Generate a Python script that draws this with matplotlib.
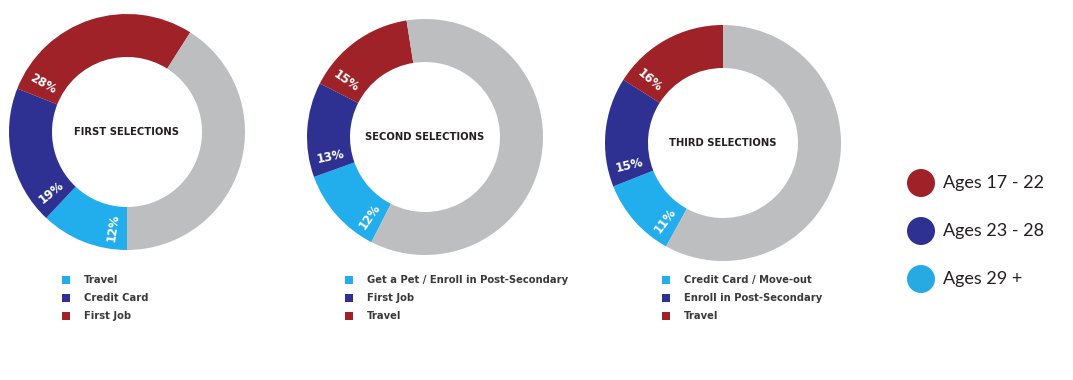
import numpy as np
import matplotlib.pyplot as plt

# Shared style
RED = "#9E2227"
NAVY = "#2E3192"
SKY = "#22AEEC"
GREY = "#BCBEC0"
SEG_COLORS = [SKY, NAVY, RED, GREY]
FIG_DPI = 100

# Data: percentages for each age group (29+, 23-28, 17-22), rest is grey
titles = ["FIRST SELECTIONS", "SECOND SELECTIONS", "THIRD SELECTIONS"]
first_vals = [12, 19, 28]
second_vals = [12, 13, 15]
third_vals = [11, 15, 16]
first_labels = ["Travel", "Credit Card", "First Job"]
second_labels = ["Get a Pet / Enroll in Post-Secondary", "First Job", "Travel"]
third_labels = ["Credit Card / Move-out", "Enroll in Post-Secondary", "Travel"]
age_groups = ["Ages 17 - 22", "Ages 23 - 28", "Ages 29 +"]
age_colors = [RED, NAVY, "#27AAE1"]

donuts = [first_vals, second_vals, third_vals]
legends = [first_labels, second_labels, third_labels]

# layout (pixel coordinates, y measured from bottom)
H = 380
centers = [(127, H - 132), (425, H - 137), (723, H - 143)]
start_compass = [180, 207, 208.8]  # clockwise from 12 o'clock
R_OUT, R_IN = 118, 75
legend_x = [66, 349, 666]

fig = plt.figure(figsize=(10.73, 3.80), dpi=FIG_DPI)
ax = fig.add_axes([0, 0, 1, 1])

for vals, title, labels, (cx, cy), start, lx in zip(
        donuts, titles, legends, centers, start_compass, legend_x):
    sizes = vals + [100 - sum(vals)]
    ax.pie(sizes, colors=SEG_COLORS, center=(cx, cy), radius=R_OUT,
           startangle=90 - start, counterclock=False,
           wedgeprops=dict(width=R_OUT - R_IN, linewidth=0))

    # percent labels, written radially near the start of each segment
    r_mid = (R_OUT + R_IN) / 2
    cum = 0
    for v in vals:
        comp = start + cum * 3.6 + 8
        rad = np.deg2rad(comp)
        x = cx + r_mid * np.sin(rad)
        y = cy + r_mid * np.cos(rad)
        rot = (90 - comp + 180 + 180) % 360 - 180
        ax.text(x, y, f"{v}%", color="white", fontsize=8.5, fontweight="bold",
                rotation=rot, rotation_mode="anchor", ha="center", va="center")
        cum += v

    ax.text(cx, cy, title, ha="center", va="center", fontsize=7.2,
            fontweight="bold", color="#231F20")

    # legend under each donut
    for i, (lab, col) in enumerate(zip(labels, SEG_COLORS[:3])):
        ly = H - (280 + 18 * i)
        ax.scatter([lx], [ly], marker="s", s=30, color=col, linewidths=0)
        ax.text(lx + 18, ly, lab, ha="left", va="center", fontsize=7.2,
                fontweight="bold", color="#3a3a3a")

# age group legend on the right
for i, (lab, col) in enumerate(zip(age_groups, age_colors)):
    y = H - (183 + 48 * i)
    ax.add_patch(plt.Circle((921, y), 14, color=col, linewidth=0))
    ax.text(943, y, lab, ha="left", va="center", fontsize=13,
            fontfamily="Lato", fontweight="normal", color="#231F20")

ax.set_xlim(0, 1073)
ax.set_ylim(0, H)
ax.set_aspect("equal")
ax.axis("off")

fig.savefig("out.png", dpi=FIG_DPI)
